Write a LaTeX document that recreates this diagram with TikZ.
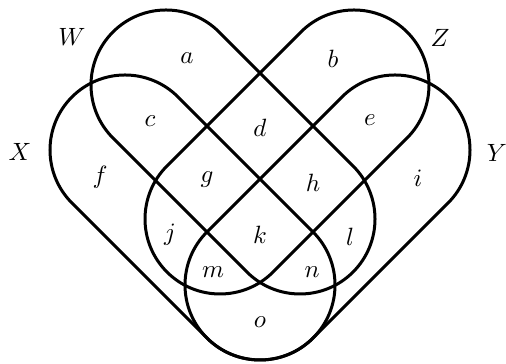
\documentclass[tikz,border=0pt]{standalone}
\usetikzlibrary{calc}
\newcommand{\rr}{30pt}
\newcommand{\stad}[3]{\draw[setline] ([shift={(#3:\rr)}]#1) arc[start angle=#3,end angle=#3+180,radius=\rr] -- ([shift={(#3+180:\rr)}]#2) arc[start angle=#3+180,end angle=#3+360,radius=\rr] -- cycle;}
\begin{document}
\begin{tikzpicture}[x=0.4pt,y=0.4pt,
  setline/.style={line width=1.2pt,line join=round},
  lbl/.style={inner sep=0pt}]
\useasboundingbox (0,0) rectangle (506,364);
\coordinate (W1) at (166,279); \coordinate (W2) at (300,145);
\coordinate (Z1) at (354,279); \coordinate (Z2) at (220,145);
\coordinate (X1) at (125,214); \coordinate (X2) at (260,79);
\coordinate (Y1) at (395,214); \coordinate (Y2) at (260,79);
\stad{W1}{W2}{45}
\stad{Z1}{Z2}{315}
\stad{X1}{X2}{45}
\stad{Y1}{Y2}{315}
\node[lbl] (lW) at (72,327) {$W$};
\node[lbl] (lZ) at (440,326) {$Z$};
\node[lbl] (lX) at (20,212) {$X$};
\node[lbl] (lY) at (497,211) {$Y$};
\node[lbl] (ra) at (187,306) {$a$};
\node[lbl] (rb) at (333,305) {$b$};
\node[lbl] (rc) at (150,243) {$c$};
\node[lbl] (rd) at (260,236) {$d$};
\node[lbl] (re) at (370,244) {$e$};
\node[lbl] (rf) at (100,187) {$f$};
\node[lbl] (rg) at (207,184) {$g$};
\node[lbl] (rh) at (313,181) {$h$};
\node[lbl] (ri) at (418,186) {$i$};
\node[lbl] (rj) at (170,129) {$j$};
\node[lbl] (rk) at (260,129) {$k$};
\node[lbl] (rl) at (350,127) {$l$};
\node[lbl] (rm) at (213,92) {$m$};
\node[lbl] (rn) at (312,92) {$n$};
\node[lbl] (ro) at (260,42) {$o$};
\end{tikzpicture}
\end{document}
